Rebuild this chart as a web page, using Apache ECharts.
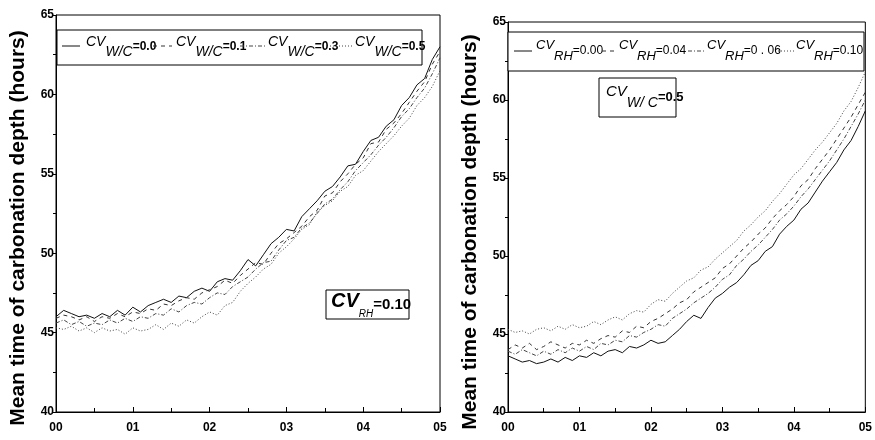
<!DOCTYPE html>
<html>
<head>
<meta charset="utf-8">
<script src="https://cdn.jsdelivr.net/npm/echarts@6/dist/echarts.min.js"></script>
<style>
html,body{margin:0;padding:0;background:#fff;}
#c{width:875px;height:440px;}
</style>
</head>
<body>
<div id="c"></div>
<script>
// x sampled every 0.01 from 0.00 to 0.50
var xStep = 0.01;
var xTickLabels = ['00','01','02','03','04','05'];
var yTickLabels = ['40','45','50','55','60','65'];
var yTitle = 'Mean time of carbonation depth (hours)';

// Left panel: CV_RH = 0.10, varying CV_W/C
var leftNames = ['0.0','0.1','0.3','0.5'];
var leftWC00 = [46.0,46.4,46.2,46.0,46.1,45.9,46.2,46.0,46.4,46.1,46.6,46.3,46.7,46.9,47.1,46.9,47.3,47.2,47.6,47.8,47.6,48.2,48.4,48.3,48.9,49.6,49.2,49.9,50.6,51.0,51.5,51.4,52.3,52.8,53.3,53.9,54.2,54.8,55.5,55.6,56.4,57.1,57.3,58.0,58.4,59.3,59.8,60.6,61.0,62.2,63.0];
var leftWC01 = [45.9,46.1,46.0,45.8,46.0,45.7,46.0,45.9,46.2,46.0,46.3,46.2,46.5,46.4,46.8,46.7,47.0,47.2,47.1,47.5,47.7,47.9,48.3,48.1,48.6,49.0,49.4,49.3,50.0,50.6,50.9,51.3,51.7,52.3,52.7,53.6,53.8,54.5,55.0,55.6,56.0,56.9,57.0,57.8,58.2,58.8,59.5,60.2,60.8,61.9,62.7];
var leftWC03 = [45.6,45.8,45.5,45.7,45.4,45.6,45.5,45.8,45.6,45.9,45.7,46.0,45.9,46.2,46.1,46.5,46.3,46.7,46.9,46.8,47.2,47.5,47.4,47.9,48.2,48.5,49.0,49.4,49.5,50.2,50.8,51.0,51.6,51.9,52.5,53.1,53.4,54.0,54.5,55.2,55.7,56.2,56.8,57.3,57.9,58.6,59.1,59.8,60.4,61.3,62.3];
var leftWC05 = [45.3,45.2,45.4,45.1,45.3,45.0,45.3,45.1,45.2,44.9,45.3,45.1,45.2,45.5,45.2,45.6,45.4,45.8,45.6,46.0,46.3,46.1,46.7,46.9,47.6,48.1,48.5,49.0,49.3,50.0,50.4,50.9,51.5,51.8,52.6,53.0,53.3,53.9,54.2,54.9,55.2,55.8,56.4,56.9,57.4,58.0,58.5,59.3,59.8,60.5,61.5];

// Right panel: CV_W/C = 0.5, varying CV_RH
var rightNames = ['0.00','0.04','0 . 06','0.10'];
var rightRH000 = [43.6,43.4,43.2,43.3,43.1,43.2,43.4,43.2,43.5,43.3,43.6,43.5,43.8,43.6,43.9,44.0,43.8,44.2,44.1,44.3,44.6,44.4,44.5,44.9,45.3,45.8,46.2,46.0,46.7,47.3,47.6,48.0,48.3,48.8,49.4,49.7,50.3,50.6,51.4,51.9,52.3,53.0,53.4,54.1,54.8,55.4,56.0,56.8,57.4,58.3,59.3];
var rightRH004 = [44.0,44.3,44.1,44.4,44.0,44.2,44.5,44.3,44.1,44.4,44.3,44.6,44.4,44.7,44.9,44.8,45.2,45.1,45.5,45.4,45.8,46.0,46.3,46.6,47.0,47.2,47.7,48.0,48.3,48.6,49.2,49.5,50.0,50.5,50.9,51.4,51.8,52.4,52.9,53.3,53.8,54.5,54.9,55.6,56.2,56.8,57.5,58.2,58.9,59.7,60.5];
var rightRH006 = [43.9,43.7,44.0,43.8,43.6,43.9,43.7,44.0,43.8,44.1,43.9,44.2,44.0,44.4,44.3,44.6,44.5,44.9,44.8,45.1,45.3,45.6,45.5,46.0,46.3,46.6,47.0,47.3,47.6,48.0,48.5,48.8,49.4,49.8,50.3,50.7,51.2,51.7,52.3,52.7,53.2,53.8,54.3,54.9,55.5,56.1,56.8,57.5,58.3,59.1,60.0];
var rightRH010 = [45.3,45.1,45.2,45.0,45.3,45.4,45.2,45.5,45.3,45.6,45.4,45.5,45.8,45.6,45.9,46.1,45.9,46.3,46.5,46.4,46.9,47.2,47.1,47.6,48.0,48.4,48.6,49.1,49.3,49.8,50.2,50.6,51.0,51.6,52.0,52.5,52.9,53.5,54.0,54.6,55.2,55.6,56.2,56.8,57.3,57.9,58.5,59.3,59.9,60.8,61.8];

function pairs(arr){ return arr.map(function(v,i){ return [+(i*xStep).toFixed(2), v]; }); }

var FONT = 'Liberation Sans, Arial, sans-serif';
var styles = [
  {type:'solid', dash:null, color:'#111'},
  {type:[4,4], dash:[4,4], color:'#333'},
  {type:[4,2,1,2], dash:[4,2,1,2], color:'#444'},
  {type:[1,2], dash:[1,2], color:'#444'}
];

function xAxis(gi){
  return {
    type:'value', gridIndex:gi, min:0, max:0.5, interval:0.1,
    axisLine:{show:true, onZero:false, lineStyle:{color:'#000', width:1}},
    axisTick:{show:true, inside:true, length:5, lineStyle:{color:'#000'}},
    minorTick:{show:true, splitNumber:2, length:4, lineStyle:{color:'#000'}},
    splitLine:{show:false},
    axisLabel:{fontFamily:FONT, fontWeight:'bold', fontSize:12, color:'#000', margin:10,
      formatter:function(v){ return xTickLabels[Math.round(v*10)]; }}
  };
}
function yAxis(gi){
  return {
    type:'value', gridIndex:gi, min:40, max:65, interval:5,
    axisLine:{show:true, onZero:false, lineStyle:{color:'#000', width:1}},
    axisTick:{show:true, inside:false, length:3, lineStyle:{color:'#000'}},
    minorTick:{show:true, splitNumber:2, length:3, lineStyle:{color:'#000'}},
    splitLine:{show:false},
    axisLabel:{fontFamily:FONT, fontWeight:'bold', fontSize:12, color:'#000', margin:2,
      formatter:function(v){ return yTickLabels[Math.round((v-40)/5)]; }}
  };
}

var leftData = [leftWC00, leftWC01, leftWC03, leftWC05];
var rightData = [rightRH000, rightRH004, rightRH006, rightRH010];
var series = [];
leftData.forEach(function(d,i){
  series.push({name:'L'+i, type:'line', xAxisIndex:0, yAxisIndex:0, data:pairs(d), symbol:'none', showSymbol:false,
    lineStyle:{width:1, type:styles[i].type, color:styles[i].color}, itemStyle:{color:styles[i].color}, animation:false});
});
rightData.forEach(function(d,i){
  series.push({name:'R'+i, type:'line', xAxisIndex:1, yAxisIndex:1, data:pairs(d), symbol:'none', showSymbol:false,
    lineStyle:{width:1, type:styles[i].type, color:styles[i].color}, itemStyle:{color:styles[i].color}, animation:false});
});

var graphics = [];
// Rotated y-axis titles
[[18,228],[470,232]].forEach(function(p){
  graphics.push({type:'text', x:p[0], y:p[1], rotation:Math.PI/2, z:5, style:{
    text:yTitle, fontFamily:FONT, fontWeight:'bold', fontSize:21, fill:'#000', align:'center', verticalAlign:'middle'}});
});

// Hand-built legends (box + sample line + rich label)
function legendBox(x, y, w, h, icons, texts, ty, sub, names, sz){
  graphics.push({type:'rect', shape:{x:x, y:y, width:w, height:h}, style:{fill:'#fff', stroke:'#000', lineWidth:1}, z:20});
  icons.forEach(function(ic, i){
    var st = {stroke:styles[i].color, lineWidth:1};
    if (styles[i].dash) st.lineDash = styles[i].dash;
    graphics.push({type:'line', shape:{x1:ic[0], y1:ic[2], x2:ic[1], y2:ic[2]}, style:st, z:21});
    graphics.push({type:'text', x:texts[i], y:ty, z:21, style:{
      text:'{a|CV}{b|' + sub + '}{c|=' + names[i] + '}',
      rich:{
        a:{fontFamily:FONT, fontStyle:'italic', fontSize:sz[0], fill:'#000', verticalAlign:'top', lineHeight:24},
        b:{fontFamily:FONT, fontStyle:'italic', fontSize:sz[1], fill:'#000', verticalAlign:'bottom', lineHeight:24},
        c:{fontFamily:FONT, fontWeight:sz[3], fontSize:sz[2], fill:'#000', verticalAlign:'middle', lineHeight:24}
      }}});
  });
}
legendBox(57, 30, 365, 35,
  [[62,80,46],[153,172,46],[240,265,46],[330,353,46]],
  [86,176,268,355], 35, 'W/C', leftNames, [14,14,12,'bold']);
legendBox(508, 32, 356, 39,
  [[514,532,51],[602,618,51],[688,706,51],[778,796,51]],
  [536,619,707,796], 39, 'RH', rightNames, [13,13,12,'normal']);

// Parameter annotation boxes
graphics.push({type:'rect', shape:{x:326, y:290, width:83, height:29}, style:{fill:'#fff', stroke:'#000', lineWidth:1}, z:20});
graphics.push({type:'text', x:331, y:291, z:21, style:{
  text:'{a|CV}{b|RH}{c|=0.10}',
  rich:{
    a:{fontFamily:FONT, fontStyle:'italic', fontWeight:'bold', fontSize:20, fill:'#000', verticalAlign:'top', lineHeight:28},
    b:{fontFamily:FONT, fontStyle:'italic', fontSize:10, fill:'#000', verticalAlign:'bottom', lineHeight:28},
    c:{fontFamily:FONT, fontWeight:'bold', fontSize:15, fill:'#000', verticalAlign:'middle', lineHeight:28}
  }}});
graphics.push({type:'rect', shape:{x:599, y:78, width:77, height:39}, style:{fill:'#fff', stroke:'#000', lineWidth:1}, z:20});
graphics.push({type:'text', x:606, y:84, z:21, style:{
  text:'{a|CV}{b|W/ C}{c|=0.5}',
  rich:{
    a:{fontFamily:FONT, fontStyle:'italic', fontSize:15, fill:'#000', verticalAlign:'top', lineHeight:26},
    b:{fontFamily:FONT, fontStyle:'italic', fontSize:14, fill:'#000', verticalAlign:'bottom', lineHeight:26},
    c:{fontFamily:FONT, fontWeight:'bold', fontSize:13, fill:'#000', verticalAlign:'middle', lineHeight:26}
  }}});

var chart = echarts.init(document.getElementById('c'), null, {renderer:'canvas'});
chart.setOption({
  backgroundColor:'#fff',
  animation:false,
  grid:[
    {left:56, top:15, width:384, height:397, show:true, borderColor:'#000', borderWidth:1, backgroundColor:'transparent'},
    {left:508, top:22, width:360, height:390, show:true, borderColor:'#000', borderWidth:1, backgroundColor:'transparent'}
  ],
  xAxis:[xAxis(0), xAxis(1)],
  yAxis:[yAxis(0), yAxis(1)],
  graphic:graphics,
  series:series
});
</script>
</body>
</html>
